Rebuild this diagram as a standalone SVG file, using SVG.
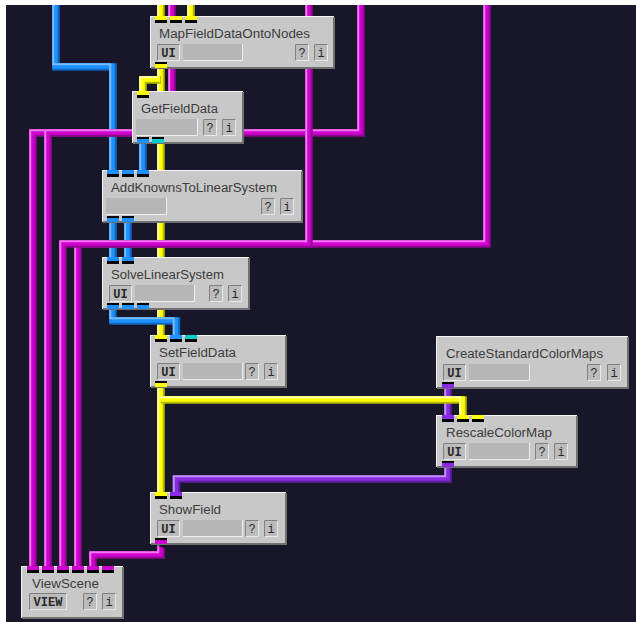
<svg xmlns="http://www.w3.org/2000/svg" width="636" height="622" viewBox="0 0 636 622">
<style>
.p{fill:none;stroke-linejoin:miter;stroke-linecap:butt}
.d{stroke-width:7.500}.m{stroke-width:5.500;transform:translate(-1px,-1px)}.l{stroke-width:2;transform:translate(-2.750px,-2.750px)}
.mag .d{stroke:#8f0a8f}.mag .m{stroke:#d000d0}.mag .l{stroke:#f078f0}
.blu .d{stroke:#0f66bd}.blu .m{stroke:#1e90ff}.blu .l{stroke:#78bcff}
.yel .d{stroke:#b8b800}.yel .m{stroke:#ffff00}.yel .l{stroke:#ffffa8}
.pur .d{stroke:#5c1ea3}.pur .m{stroke:#8a2be2}.pur .l{stroke:#bc90f2}
.n{fill:#c8c8c8;stroke:none}.hi{fill:none;stroke:#f4f4f4;stroke-width:1}.lo{fill:none;stroke:#707070;stroke-width:2}
.bar{fill:#b6b6b6;stroke:none}.sh{fill:none;stroke:#efefef;stroke-width:1}
.bf{fill:#bcbcbc;stroke:#e8e8e8;stroke-width:1}.bd{fill:none;stroke:#808080;stroke-width:1}
.lab{font:12.500px "Liberation Sans",Arial,sans-serif;fill:#3c3c3c}
.b{font:bold 12px "Liberation Mono","DejaVu Sans Mono",monospace;fill:#2a2a2a;text-anchor:middle}
.q{font:12px "Liberation Mono","DejaVu Sans Mono",monospace;fill:#2a2a2a;text-anchor:middle}
.k{fill:#000}.cm{fill:#cc00cc}.cb{fill:#1e90ff}.cy{fill:#ffff00}.cp{fill:#8a2be2}.cc{fill:#00cccc}
</style>
<defs>
<clipPath id="area"><rect x="6" y="5" width="630" height="617"/></clipPath>
<g id="s"><rect class="bf" x=".5" y=".5" width="13" height="16"/><path class="bd" d="M.5 16.500V.5H13.500"/></g>
<g id="u"><rect class="bf" x=".5" y=".5" width="22" height="16"/><path class="bd" d="M.5 16.500V.5H22.500"/></g>
<g id="v"><rect class="bf" x=".5" y=".5" width="37" height="16"/><path class="bd" d="M.5 16.500V.5H37.500"/></g>
<path id="a1" d="M33 570V133H361V0"/>
<path id="a2" d="M48 570V133H172V0"/>
<path id="a3" d="M63 570V244H309V0"/>
<path id="a4" d="M78 570V244H487V0"/>
<path id="a5" d="M161 548V555H93V570"/>
<path id="b1" d="M56 0V67H113V174"/>
<path id="b2" d="M143 140V174"/>
<path id="b3" d="M113 218V261"/>
<path id="b4" d="M128 218V261"/>
<path id="b5" d="M113 305V321H176.500V339"/>
<path id="y1" d="M161 0V20"/>
<path id="y2" d="M191 0V20"/>
<path id="y3" d="M161 64V339"/>
<path id="y4" d="M161 80H143V95"/>
<path id="y5" d="M161 383V496"/>
<path id="y6" d="M161 400H463V419"/>
<path id="u1" d="M448 384V419"/>
<path id="u2" d="M448 463V479H176.500V496"/>
</defs>
<rect width="636" height="622" fill="#fff"/>
<rect x="6" y="5" width="630" height="617" fill="#171729"/>
<g id="connectors" class="p" clip-path="url(#area)">
<g class="pur"><use href="#u1" class="d"/><use href="#u1" class="m"/><use href="#u1" class="l"/><use href="#u2" class="d"/><use href="#u2" class="m"/><use href="#u2" class="l"/></g>
<g class="yel"><use href="#y1" class="d"/><use href="#y1" class="m"/><use href="#y1" class="l"/><use href="#y2" class="d"/><use href="#y2" class="m"/><use href="#y2" class="l"/><use href="#y3" class="d"/><use href="#y3" class="m"/><use href="#y3" class="l"/><use href="#y4" class="d"/><use href="#y4" class="m"/><use href="#y4" class="l"/><use href="#y5" class="d"/><use href="#y5" class="m"/><use href="#y5" class="l"/><use href="#y6" class="d"/><use href="#y6" class="m"/><use href="#y6" class="l"/></g>
<g class="blu"><use href="#b1" class="d"/><use href="#b1" class="m"/><use href="#b1" class="l"/><use href="#b2" class="d"/><use href="#b2" class="m"/><use href="#b2" class="l"/><use href="#b3" class="d"/><use href="#b3" class="m"/><use href="#b3" class="l"/><use href="#b4" class="d"/><use href="#b4" class="m"/><use href="#b4" class="l"/><use href="#b5" class="d"/><use href="#b5" class="m"/><use href="#b5" class="l"/></g>
<g class="mag"><use href="#a1" class="d"/><use href="#a1" class="m"/><use href="#a1" class="l"/><use href="#a2" class="d"/><use href="#a2" class="m"/><use href="#a2" class="l"/><use href="#a4" class="d"/><use href="#a4" class="m"/><use href="#a4" class="l"/><use href="#a3" class="d"/><use href="#a3" class="m"/><use href="#a3" class="l"/><use href="#a5" class="d"/><use href="#a5" class="m"/><use href="#a5" class="l"/></g>
</g>

<g id="MapFieldDataOntoNodes">
<rect class="n" x="150" y="16" width="184" height="52"/><path class="lo" d="M334 17V68H151"/><path class="hi" d="M150.500 68V16.500H334"/>
<rect class="cy" x="155" y="16" width="12" height="4"/><rect class="k" x="155" y="20" width="12" height="3"/>
<rect class="cy" x="170" y="16" width="12" height="4"/><rect class="k" x="170" y="20" width="12" height="3"/>
<rect class="cy" x="185" y="16" width="12" height="4"/><rect class="k" x="185" y="20" width="12" height="3"/>
<rect class="k" x="155" y="62" width="12" height="2"/><rect class="cy" x="155" y="64" width="12" height="4"/>
<text class="lab" x="159" y="38" textLength="151" lengthAdjust="spacingAndGlyphs">MapFieldDataOntoNodes</text>
<use href="#u" x="157" y="44"/><text class="b" x="168.500" y="57">UI</text>
<rect class="bar" x="183" y="44" width="59" height="16"/><path class="sh" d="M183 60.500H242.500V44"/>
<use href="#s" x="295" y="44"/><text class="q" x="302" y="57">?</text>
<use href="#s" x="314" y="44"/><text class="q" x="321" y="57">i</text>
</g>

<g id="GetFieldData">
<rect class="n" x="132" y="91" width="111" height="52"/><path class="lo" d="M243 92V143H133"/><path class="hi" d="M132.500 143V91.500H243"/>
<rect class="cy" x="137" y="91" width="12" height="4"/><rect class="k" x="137" y="95" width="12" height="3"/>
<rect class="k" x="137" y="137" width="12" height="2"/><rect class="cb" x="137" y="139" width="12" height="4"/>
<rect class="k" x="152" y="137" width="12" height="2"/><rect class="cc" x="152" y="139" width="12" height="4"/>
<text class="lab" x="141" y="113" textLength="77" lengthAdjust="spacingAndGlyphs">GetFieldData</text>
<rect class="bar" x="136" y="119" width="61" height="16"/><path class="sh" d="M136 135.500H197.500V119"/>
<use href="#s" x="203" y="119"/><text class="q" x="210" y="132">?</text>
<use href="#s" x="222" y="119"/><text class="q" x="229" y="132">i</text>
</g>

<g id="AddKnownsToLinearSystem">
<rect class="n" x="102" y="170" width="200" height="52"/><path class="lo" d="M302 171V222H103"/><path class="hi" d="M102.500 222V170.500H302"/>
<rect class="cb" x="107" y="170" width="12" height="4"/><rect class="k" x="107" y="174" width="12" height="3"/>
<rect class="cb" x="122" y="170" width="12" height="4"/><rect class="k" x="122" y="174" width="12" height="3"/>
<rect class="cb" x="137" y="170" width="12" height="4"/><rect class="k" x="137" y="174" width="12" height="3"/>
<rect class="k" x="107" y="216" width="12" height="2"/><rect class="cb" x="107" y="218" width="12" height="4"/>
<rect class="k" x="122" y="216" width="12" height="2"/><rect class="cb" x="122" y="218" width="12" height="4"/>
<text class="lab" x="111" y="192" textLength="166" lengthAdjust="spacingAndGlyphs">AddKnownsToLinearSystem</text>
<rect class="bar" x="106" y="198" width="60" height="16"/><path class="sh" d="M106 214.500H166.500V198"/>
<use href="#s" x="261" y="198"/><text class="q" x="268" y="211">?</text>
<use href="#s" x="280" y="198"/><text class="q" x="287" y="211">i</text>
</g>

<g id="SolveLinearSystem">
<rect class="n" x="102" y="257" width="147" height="52"/><path class="lo" d="M249 258V309H103"/><path class="hi" d="M102.500 309V257.500H249"/>
<rect class="cb" x="107" y="257" width="12" height="4"/><rect class="k" x="107" y="261" width="12" height="3"/>
<rect class="cb" x="122" y="257" width="12" height="4"/><rect class="k" x="122" y="261" width="12" height="3"/>
<rect class="k" x="107" y="303" width="12" height="2"/><rect class="cb" x="107" y="305" width="12" height="4"/>
<rect class="k" x="122" y="303" width="12" height="2"/><rect class="cb" x="122" y="305" width="12" height="4"/>
<rect class="k" x="137" y="303" width="12" height="2"/><rect class="cb" x="137" y="305" width="12" height="4"/>
<text class="lab" x="111" y="279" textLength="113" lengthAdjust="spacingAndGlyphs">SolveLinearSystem</text>
<use href="#u" x="109" y="285"/><text class="b" x="120.500" y="298">UI</text>
<rect class="bar" x="135" y="285" width="59" height="16"/><path class="sh" d="M135 301.500H194.500V285"/>
<use href="#s" x="209" y="285"/><text class="q" x="216" y="298">?</text>
<use href="#s" x="228" y="285"/><text class="q" x="235" y="298">i</text>
</g>

<g id="SetFieldData">
<rect class="n" x="150" y="335" width="136" height="52"/><path class="lo" d="M286 336V387H151"/><path class="hi" d="M150.500 387V335.500H286"/>
<rect class="cy" x="155" y="335" width="12" height="4"/><rect class="k" x="155" y="339" width="12" height="3"/>
<rect class="cb" x="170" y="335" width="12" height="4"/><rect class="k" x="170" y="339" width="12" height="3"/>
<rect class="cc" x="185" y="335" width="12" height="4"/><rect class="k" x="185" y="339" width="12" height="3"/>
<rect class="k" x="155" y="381" width="12" height="2"/><rect class="cy" x="155" y="383" width="12" height="4"/>
<text class="lab" x="159" y="357" textLength="77" lengthAdjust="spacingAndGlyphs">SetFieldData</text>
<use href="#u" x="157" y="363"/><text class="b" x="168.500" y="376">UI</text>
<rect class="bar" x="183" y="363" width="59" height="16"/><path class="sh" d="M183 379.500H242.500V363"/>
<use href="#s" x="245" y="363"/><text class="q" x="252" y="376">?</text>
<use href="#s" x="264" y="363"/><text class="q" x="271" y="376">i</text>
</g>

<g id="CreateStandardColorMaps">
<rect class="n" x="436" y="336" width="192" height="52"/><path class="lo" d="M628 337V388H437"/><path class="hi" d="M436.500 388V336.500H628"/>
<rect class="k" x="442" y="382" width="12" height="2"/><rect class="cp" x="442" y="384" width="12" height="4"/>
<text class="lab" x="446" y="358" textLength="157" lengthAdjust="spacingAndGlyphs">CreateStandardColorMaps</text>
<use href="#u" x="443" y="364"/><text class="b" x="454.500" y="377">UI</text>
<rect class="bar" x="469" y="364" width="60" height="16"/><path class="sh" d="M469 380.500H529.500V364"/>
<use href="#s" x="587" y="364"/><text class="q" x="594" y="377">?</text>
<use href="#s" x="607" y="364"/><text class="q" x="614" y="377">i</text>
</g>

<g id="RescaleColorMap">
<rect class="n" x="436" y="415" width="141" height="52"/><path class="lo" d="M577 416V467H437"/><path class="hi" d="M436.500 467V415.500H577"/>
<rect class="cp" x="442" y="415" width="12" height="4"/><rect class="k" x="442" y="419" width="12" height="3"/>
<rect class="cy" x="457" y="415" width="12" height="4"/><rect class="k" x="457" y="419" width="12" height="3"/>
<rect class="cy" x="472" y="415" width="12" height="4"/><rect class="k" x="472" y="419" width="12" height="3"/>
<rect class="k" x="442" y="461" width="12" height="2"/><rect class="cp" x="442" y="463" width="12" height="4"/>
<text class="lab" x="446" y="437" textLength="106" lengthAdjust="spacingAndGlyphs">RescaleColorMap</text>
<use href="#u" x="443" y="443"/><text class="b" x="454.500" y="456">UI</text>
<rect class="bar" x="469" y="443" width="60" height="16"/><path class="sh" d="M469 459.500H529.500V443"/>
<use href="#s" x="535" y="443"/><text class="q" x="542" y="456">?</text>
<use href="#s" x="554" y="443"/><text class="q" x="561" y="456">i</text>
</g>

<g id="ShowField">
<rect class="n" x="150" y="492" width="136" height="52"/><path class="lo" d="M286 493V544H151"/><path class="hi" d="M150.500 544V492.500H286"/>
<rect class="cy" x="155" y="492" width="12" height="4"/><rect class="k" x="155" y="496" width="12" height="3"/>
<rect class="cp" x="170" y="492" width="12" height="4"/><rect class="k" x="170" y="496" width="12" height="3"/>
<rect class="k" x="155" y="538" width="12" height="2"/><rect class="cm" x="155" y="540" width="12" height="4"/>
<text class="lab" x="159" y="514" textLength="62" lengthAdjust="spacingAndGlyphs">ShowField</text>
<use href="#u" x="157" y="520"/><text class="b" x="168.500" y="533">UI</text>
<rect class="bar" x="183" y="520" width="59" height="16"/><path class="sh" d="M183 536.500H242.500V520"/>
<use href="#s" x="245" y="520"/><text class="q" x="252" y="533">?</text>
<use href="#s" x="264" y="520"/><text class="q" x="271" y="533">i</text>
</g>

<g id="ViewScene">
<rect class="n" x="21" y="566" width="102" height="52"/><path class="lo" d="M123 567V618H22"/><path class="hi" d="M21.500 618V566.500H123"/>
<rect class="cm" x="27" y="566" width="12" height="4"/><rect class="k" x="27" y="570" width="12" height="3"/>
<rect class="cm" x="42" y="566" width="12" height="4"/><rect class="k" x="42" y="570" width="12" height="3"/>
<rect class="cm" x="57" y="566" width="12" height="4"/><rect class="k" x="57" y="570" width="12" height="3"/>
<rect class="cm" x="72" y="566" width="12" height="4"/><rect class="k" x="72" y="570" width="12" height="3"/>
<rect class="cm" x="87" y="566" width="12" height="4"/><rect class="k" x="87" y="570" width="12" height="3"/>
<rect class="cm" x="102" y="566" width="12" height="4"/><rect class="k" x="102" y="570" width="12" height="3"/>
<text class="lab" x="32" y="588" textLength="67" lengthAdjust="spacingAndGlyphs">ViewScene</text>
<use href="#v" x="29" y="593"/><text class="b" x="48" y="606">VIEW</text>
<use href="#s" x="83" y="593"/><text class="q" x="90" y="606">?</text>
<use href="#s" x="102" y="593"/><text class="q" x="109" y="606">i</text>
</g>
</svg>
